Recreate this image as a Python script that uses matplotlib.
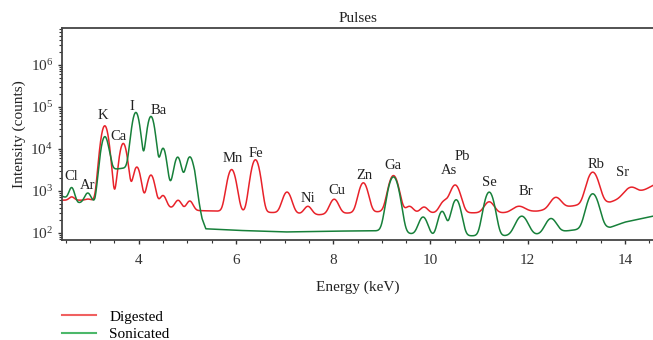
import numpy as np
import matplotlib.pyplot as plt
from matplotlib.ticker import LogLocator, LogFormatterMathtext, MultipleLocator, NullFormatter
from matplotlib.lines import Line2D

plt.rcParams['font.family'] = ['Liberation Serif', 'DejaVu Serif']
plt.rcParams['mathtext.fontset'] = 'stix'

# --- data ---
# baseline knots (keV, counts)
red_base_E = [2.42, 3.1, 3.4, 4.3, 4.6, 5.2, 6.0, 7.0, 7.7, 8.4, 9.0, 10.0, 11.0, 11.6, 12.2, 13.0, 13.7, 14.3, 14.58]
red_base_I = [600, 600, 520, 480, 400, 340, 320, 300, 270, 300, 320, 300, 300, 300, 330, 450, 540, 900, 1350]
grn_base_E = [2.42, 2.75, 3.1, 3.42, 3.8, 4.0, 4.6, 5.15, 5.3, 5.38, 6.0, 7.0, 8.0, 9.0, 10.0, 11.0, 12.0, 12.9, 13.2, 13.7, 14.0, 14.58]
grn_base_I = [750, 520, 520, 3200, 3600, 1500, 1300, 1500, 220, 125, 115, 105, 110, 112, 85, 85, 85, 115, 125, 135, 180, 250]

# peaks: centre (keV), amplitude above baseline (counts), sigma (keV)
red_pk_E = [2.62, 2.95, 3.30, 3.68, 3.96, 4.25, 4.50, 4.81, 5.05, 5.91, 6.40, 7.05, 7.48, 8.02, 8.62, 9.24, 9.57, 9.87, 10.28, 10.51, 11.21, 11.82, 12.58, 13.34, 14.12]
red_pk_A = [120, 40, 35000, 13000, 3200, 1900, 350, 220, 220, 2900, 5200, 640, 150, 350, 1250, 2000, 120, 110, 250, 1080, 250, 120, 320, 2300, 450]
red_pk_S = [0.05, 0.05, 0.065, 0.065, 0.065, 0.065, 0.06, 0.06, 0.06, 0.075, 0.075, 0.08, 0.07, 0.08, 0.08, 0.085, 0.07, 0.07, 0.08, 0.09, 0.09, 0.12, 0.1, 0.1, 0.12]

grn_pk_E = [2.62, 2.95, 3.30, 3.94, 4.25, 4.50, 4.80, 5.05, 9.24, 9.85, 10.24, 10.53, 11.21, 11.88, 12.48, 13.34]
grn_pk_A = [600, 370, 18000, 72000, 58000, 9000, 5000, 5000, 2050, 150, 240, 530, 850, 165, 120, 725]
grn_pk_S = [0.05, 0.06, 0.065, 0.065, 0.065, 0.055, 0.06, 0.065, 0.09, 0.08, 0.07, 0.08, 0.085, 0.11, 0.1, 0.1]

# element labels (keV, counts)
lab_txt = ['Cl', 'Ar', 'K', 'Ca', 'I', 'Ba', 'Mn', 'Fe', 'Ni', 'Cu', 'Zn', 'Ga', 'As', 'Pb', 'Se', 'Br', 'Rb', 'Sr']
lab_E = [2.62, 2.95, 3.26, 3.59, 3.85, 4.41, 5.93, 6.42, 7.49, 8.07, 8.64, 9.22, 10.39, 10.65, 11.21, 11.97, 13.40, 13.96]
lab_I = [2150, 1380, 62000, 19500, 105000, 80000, 5800, 7600, 650, 1000, 2300, 4000, 3000, 6500, 1620, 950, 4200, 2700]


def spectrum(E, bE, bI, pE, pA, pS):
    y = 10 ** np.interp(E, bE, np.log10(bI))
    for c, a, s in zip(pE, pA, pS):
        y = y + a * np.exp(-(E - c) ** 2 / (2 * s ** 2))
    return y


E = np.linspace(2.42, 14.58, 3000)
red = spectrum(E, red_base_E, red_base_I, red_pk_E, red_pk_A, red_pk_S)
grn = spectrum(E, grn_base_E, grn_base_I, grn_pk_E, grn_pk_A, grn_pk_S)

fig = plt.figure(figsize=(6.53, 3.40), dpi=100)
ax = fig.add_axes([62 / 653, 1 - 240 / 340, 1 - 62 / 653, 212 / 340])

ax.plot(E, red, color='#e8222a', lw=1.1)
ax.plot(E, grn, color='#17803a', lw=1.1)

for t, x, y in zip(lab_txt, lab_E, lab_I):
    ax.text(x, y, t, ha='center', va='center', fontsize=10.5, color='#222222')

ax.set_yscale('log')
ax.set_xlim(2.42, 14.58)
ax.set_ylim(10 ** 1.83, 10 ** 6.88)
ax.xaxis.set_major_locator(MultipleLocator(2))
ax.xaxis.set_minor_locator(MultipleLocator(0.5))
ax.yaxis.set_major_locator(LogLocator(base=10, numticks=10))
ax.yaxis.set_major_formatter(LogFormatterMathtext())
ax.yaxis.set_minor_locator(LogLocator(base=10, subs=np.arange(2, 10), numticks=20))
ax.yaxis.set_minor_formatter(NullFormatter())
ax.tick_params(which='both', direction='out', labelsize=11, colors='#333333')
ax.tick_params(axis='x', which='major', pad=7)
ax.tick_params(which='major', length=3, width=1)
ax.tick_params(which='minor', length=2, width=0.8)

for s in ['top', 'left', 'bottom']:
    ax.spines[s].set_color('#444444')
    ax.spines[s].set_linewidth(1.3)
ax.spines['right'].set_visible(False)

ax.set_xlabel('Energy (keV)', fontsize=11, color='#222222', labelpad=10)
ax.set_ylabel('Intensity (counts)', fontsize=11, color='#222222', labelpad=3)
ax.set_title('Pulses', fontsize=11, color='#222222', pad=4)

handles = [Line2D([0], [0], color='#f06060', lw=1.5), Line2D([0], [0], color='#4cb86a', lw=1.5)]
fig.legend(handles, ['Digested', 'Sonicated'], loc='upper left', bbox_to_anchor=(62 / 653, 1 - 310 / 340),
           frameon=False, fontsize=11, handlelength=2.2, handletextpad=0.9, labelspacing=0.25,
           borderpad=0, borderaxespad=0)

fig.savefig('out.png', dpi=100)
